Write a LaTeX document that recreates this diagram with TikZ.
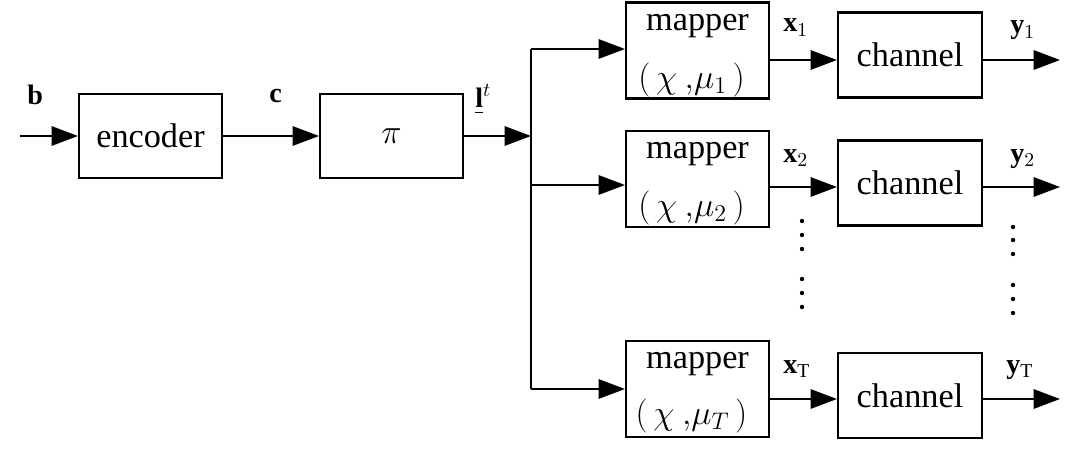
\RequirePackage{fix-cm}
\documentclass[tikz,border=0pt]{standalone}
\usepackage{amsmath}
\usepackage{fontspec}
\setmainfont{Liberation Serif}
\usetikzlibrary{arrows.meta}

\tikzset{
  block/.style={draw, line width=1.2pt, minimum width=2.86cm, minimum height=1.68cm, inner sep=0pt, font=\fontsize{19.5}{23}\selectfont},
  mapbox/.style={block, minimum width=2.86cm, minimum height=1.92cm},
  chanbox/.style={block, minimum width=2.88cm, minimum height=1.7cm},
  maptxt/.style={inner sep=0pt, font=\fontsize{19.5}{23}\selectfont},
  sig/.style={line width=1.2pt, -{Triangle[length=15pt,width=11pt]}},
  wire/.style={line width=1.2pt},
  lbl/.style={font=\fontsize{16}{19}\selectfont, inner sep=0pt, anchor=base west}
}

\begin{document}
\begin{tikzpicture}[x=0.02cm, y=-0.02cm]
    \useasboundingbox (0,0) rectangle (1071,456);
    % encoder and interleaver
    \node[block] (enc) at (150.5,136) {encoder};
    \node[block] (intl) at (391.5,136) {$\pi$};

    % mappers
    \node[mapbox] (map1) at (697.5,50.5) {};
    \node[mapbox] (map2) at (697.5,179) {};
    \node[mapbox] (mapT) at (697.5,389) {};
    \node[maptxt, anchor=base] (map1a) at ([yshift=-0.58cm]map1.north) {mapper};
    \node[maptxt, anchor=base] (map2a) at ([yshift=-0.58cm]map2.north) {mapper};
    \node[maptxt, anchor=base] (mapTa) at ([yshift=-0.58cm]mapT.north) {mapper};
    \node[maptxt] (map1b) at ([xshift=-0.12cm, yshift=0.4cm]map1.south) {$(\,\chi\:,\!\mu_1\,)$};
    \node[maptxt] (map2b) at ([xshift=-0.12cm, yshift=0.4cm]map2.south) {$(\,\chi\:,\!\mu_2\,)$};
    \node[maptxt] (mapTb) at ([xshift=-0.12cm, yshift=0.45cm]mapT.south) {$(\,\chi\:,\!\mu_T\,)$};

    % channels
    \node[chanbox] (ch1) at (910,55) {channel};
    \node[chanbox] (ch2) at (910,183) {channel};
    \node[chanbox] (chT) at (910,395.5) {channel};

    % labels
    \node[lbl] (lb) at (27,105) {$\mathbf{b}$};
    \node[lbl] (lc) at (269,103) {$\mathbf{c}$};
    \node[lbl] (ll) at (475,108) {$\underline{\mathbf{l}}^{t}$};
    \node[lbl] (lx1) at (783,32) {$\mathbf{x}_{1}$};
    \node[lbl] (lx2) at (783,162) {$\mathbf{x}_{2}$};
    \node[lbl] (lxT) at (783,373) {$\mathbf{x}_{\mathrm{T}}$};
    \node[lbl] (ly1) at (1010,34) {$\mathbf{y}_{1}$};
    \node[lbl] (ly2) at (1010,162) {$\mathbf{y}_{2}$};
    \node[lbl] (lyT) at (1006,373) {$\mathbf{y}_{\mathrm{T}}$};

    % dots between branches
    \foreach \y in {221,235,249,279,293,307} \fill (802,\y) circle (2.2);
    \foreach \y in {227,240,254,285,299,313} \fill (1013,\y) circle (2.2);

    % points for free ends, rows and the split
    \coordinate (inx) at (20,136);
    \coordinate (outx) at (1060,0);
    \coordinate (split) at (531,136);
    \coordinate (br1) at (531,49);
    \coordinate (br2) at (531,185);
    \coordinate (brT) at (531,389);
    \coordinate (row1) at (0,60);
    \coordinate (row2) at (0,187);
    \coordinate (rowT) at (0,399);

    % connections
    \draw[sig] (inx) -- (enc.west);
    \draw[sig] (enc) -- (intl);
    \draw[sig] (intl.east) -- (split);
    \draw[wire] (br1) -- (brT);
    \draw[sig] (br1) -- (br1 -| map1.west);
    \draw[sig] (br2) -- (br2 -| map2.west);
    \draw[sig] (brT) -- (brT -| mapT.west);
    \draw[sig] (map1.east |- row1) -- (ch1.west |- row1);
    \draw[sig] (map2.east |- row2) -- (ch2.west |- row2);
    \draw[sig] (mapT.east |- rowT) -- (chT.west |- rowT);
    \draw[sig] (ch1.east |- row1) -- (outx |- row1);
    \draw[sig] (ch2.east |- row2) -- (outx |- row2);
    \draw[sig] (chT.east |- rowT) -- (outx |- rowT);
\end{tikzpicture}
\end{document}
